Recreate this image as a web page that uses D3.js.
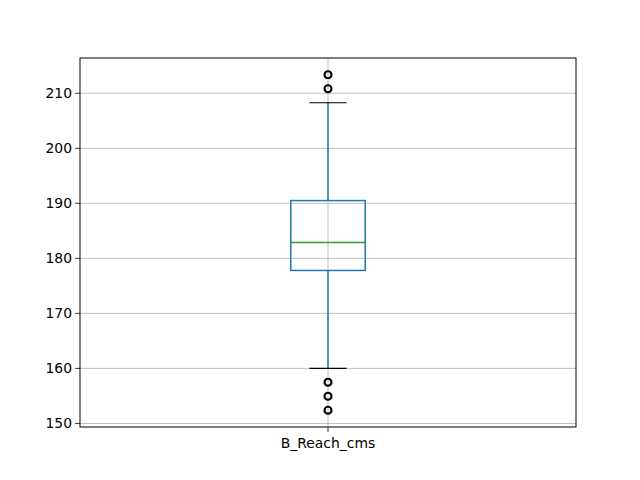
<!DOCTYPE html>
<html><head><meta charset="utf-8">
<script src="https://cdn.jsdelivr.net/npm/d3@7"></script>
<style>body{margin:0;background:#fff}svg{display:block}</style>
</head><body>
<svg id="c" width="640" height="480"></svg>
<script>
const categories = ["B_Reach_cms"];
const q1 = [177.8];
const median = [182.88];
const q3 = [190.5];
const whiskerLow = [160.02];
const whiskerHigh = [208.28];
const outliers = [[152.4, 154.94, 157.48, 210.82, 213.36]];
const yTicks = [150, 160, 170, 180, 190, 200, 210];

const svg = d3.select("#c");
const L = 80, R = 576, T = 58, B = 427;
const font = "DejaVu Sans, sans-serif";

const allVals = outliers[0].concat(whiskerLow, whiskerHigh);
const lo = d3.min(allVals), hi = d3.max(allVals), pad = (hi - lo) * 0.05;
const y = d3.scaleLinear().domain([lo - pad, hi + pad]).range([B, T]);
const x = d3.scaleLinear().domain([0.5, 1.5]).range([L, R]);
const bw = 0.15;

// grid
const g = svg.append("g");
g.selectAll("line.hg").data(yTicks).join("line")
  .attr("x1", L).attr("x2", R).attr("y1", d => y(d)).attr("y2", d => y(d))
  .attr("stroke", "#b0b0b0").attr("stroke-width", 0.8);
g.selectAll("line.vg").data(categories).join("line")
  .attr("x1", (d, i) => x(i + 1)).attr("x2", (d, i) => x(i + 1)).attr("y1", T).attr("y2", B)
  .attr("stroke", "#b0b0b0").attr("stroke-width", 0.8);

categories.forEach((c, i) => {
  const cx = x(i + 1);
  const x0 = x(i + 1 - bw / 2), x1 = x(i + 1 + bw / 2);
  const c0 = x(i + 1 - bw / 4), c1 = x(i + 1 + bw / 4);
  svg.append("line").attr("x1", cx).attr("x2", cx).attr("y1", y(q3[i])).attr("y2", y(whiskerHigh[i]))
    .attr("stroke", "#1f77b4").attr("stroke-width", 1.5);
  svg.append("line").attr("x1", cx).attr("x2", cx).attr("y1", y(q1[i])).attr("y2", y(whiskerLow[i]))
    .attr("stroke", "#1f77b4").attr("stroke-width", 1.5);
  [whiskerHigh[i], whiskerLow[i]].forEach(v => {
    svg.append("line").attr("x1", c0).attr("x2", c1).attr("y1", y(v)).attr("y2", y(v))
      .attr("stroke", "#000").attr("stroke-width", 1.2);
  });
  svg.append("rect").attr("x", x0).attr("y", y(q3[i])).attr("width", x1 - x0).attr("height", y(q1[i]) - y(q3[i]))
    .attr("fill", "none").attr("stroke", "#1f77b4").attr("stroke-width", 1.5);
  svg.append("line").attr("x1", x0).attr("x2", x1).attr("y1", y(median[i])).attr("y2", y(median[i]))
    .attr("stroke", "#2ca02c").attr("stroke-width", 1.5);
  svg.selectAll(null).data(outliers[i]).join("circle")
    .attr("cx", cx).attr("cy", d => y(d)).attr("r", 3.5)
    .attr("fill", "none").attr("stroke", "#000").attr("stroke-width", 2.1);
});

svg.append("rect").attr("x", L).attr("y", T).attr("width", R - L).attr("height", B - T)
  .attr("fill", "none").attr("stroke", "#000").attr("stroke-width", 1);

const ya = svg.append("g");
yTicks.forEach(t => {
  ya.append("line").attr("x1", L - 4.9).attr("x2", L).attr("y1", y(t)).attr("y2", y(t)).attr("stroke", "#000").attr("stroke-width", 0.8);
  ya.append("text").attr("x", L - 8).attr("y", y(t)).attr("dy", "0.35em").attr("text-anchor", "end")
    .attr("font-family", font).attr("font-size", "13.9px").attr("fill", "#000").text(t);
});
categories.forEach((c, i) => {
  svg.append("line").attr("x1", x(i + 1)).attr("x2", x(i + 1)).attr("y1", B).attr("y2", B + 4.9).attr("stroke", "#000").attr("stroke-width", 0.8);
  svg.append("text").attr("x", x(i + 1)).attr("y", B + 21).attr("text-anchor", "middle")
    .attr("font-family", font).attr("font-size", "13.9px").attr("fill", "#000").text(c);
});
</script>
</body></html>
